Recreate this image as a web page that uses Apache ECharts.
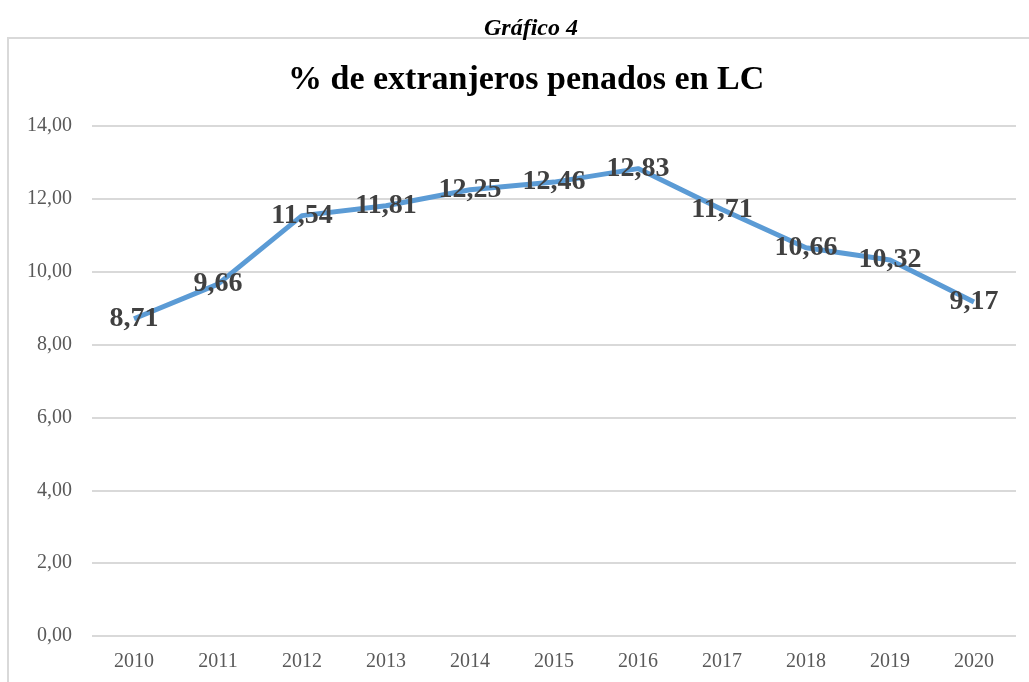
<!DOCTYPE html>
<html><head><meta charset="utf-8">
<script src="https://cdn.jsdelivr.net/npm/echarts@6/dist/echarts.min.js"></script>
<style>html,body{margin:0;padding:0;background:#fff}#c{width:1029px;height:682px}</style>
</head><body><div id="c"></div>
<script>
const years = ['2010','2011','2012','2013','2014','2015','2016','2017','2018','2019','2020'];
const values = [8.71, 9.66, 11.54, 11.81, 12.25, 12.46, 12.83, 11.71, 10.66, 10.32, 9.17];
const fmt = v => v.toFixed(2).replace('.', ',');
const chart = echarts.init(document.getElementById('c'));
chart.setOption({
  animation: false,
  backgroundColor: '#fff',
  graphic: [
    { type: 'rect', shape: { x: 8, y: 38, width: 1040, height: 700 }, style: { fill: 'none', stroke: '#D9D9D9', lineWidth: 2 }, z: -1 }
  ],
  title: [
    { text: 'Gráfico 4', left: 479, top: 12, textStyle: { fontFamily: 'Liberation Serif', fontStyle: 'italic', fontWeight: 'bold', fontSize: 24, color: '#000' } },
    { text: '% de extranjeros penados en LC', left: 283, top: 58, textStyle: { fontFamily: 'Liberation Serif', fontWeight: 'bold', fontSize: 34, color: '#000' } }
  ],
  grid: { left: 92, right: 13, top: 126, bottom: 46 },
  xAxis: {
    type: 'category', data: years, boundaryGap: true,
    axisLine: { show: false }, axisTick: { show: false },
    axisLabel: { fontFamily: 'Liberation Serif', fontSize: 20, color: '#595959', margin: 16 }
  },
  yAxis: {
    type: 'value', min: 0, max: 14, interval: 2,
    axisLine: { show: false }, axisTick: { show: false },
    axisLabel: { fontFamily: 'Liberation Serif', fontSize: 20, color: '#595959', margin: 20, formatter: v => fmt(v) },
    splitLine: { lineStyle: { color: '#D9D9D9', width: 2 } }
  },
  series: [{
    type: 'line', data: values,
    symbol: 'circle', symbolSize: 1, showSymbol: true,
    itemStyle: { color: 'rgba(0,0,0,0)' },
    lineStyle: { color: '#5B9BD5', width: 5 },
    label: {
      show: true, position: 'inside',
      fontFamily: 'Liberation Serif', fontWeight: 'bold', fontSize: 28, color: '#404040',
      formatter: p => fmt(p.value)
    }
  }]
});
</script></body></html>
